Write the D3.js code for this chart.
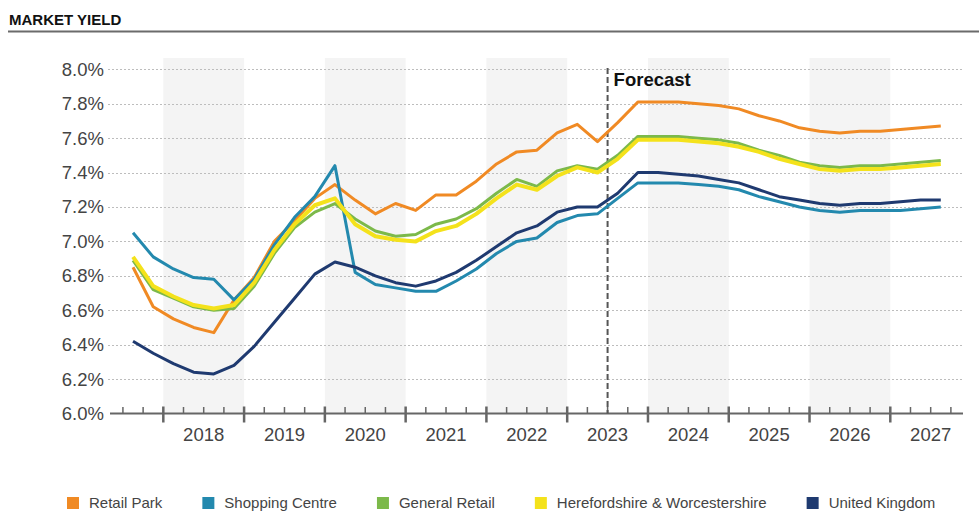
<!DOCTYPE html>
<html>
<head>
<meta charset="utf-8">
<script src="https://cdn.jsdelivr.net/npm/d3@7"></script>
<style>
  html, body { margin: 0; padding: 0; background: #fff; }
  svg { display: block; font-family: "Liberation Sans", Arial, sans-serif; }
</style>
</head>
<body>
<svg id="chart" width="979" height="511"></svg>
<script>
// Quarterly market yield (%) by segment, 2017 Q3 to 2027 Q3
const periods = [
  "2017 Q3", "2017 Q4",
  "2018 Q1", "2018 Q2", "2018 Q3", "2018 Q4",
  "2019 Q1", "2019 Q2", "2019 Q3", "2019 Q4",
  "2020 Q1", "2020 Q2", "2020 Q3", "2020 Q4",
  "2021 Q1", "2021 Q2", "2021 Q3", "2021 Q4",
  "2022 Q1", "2022 Q2", "2022 Q3", "2022 Q4",
  "2023 Q1", "2023 Q2", "2023 Q3", "2023 Q4",
  "2024 Q1", "2024 Q2", "2024 Q3", "2024 Q4",
  "2025 Q1", "2025 Q2", "2025 Q3", "2025 Q4",
  "2026 Q1", "2026 Q2", "2026 Q3", "2026 Q4",
  "2027 Q1", "2027 Q2", "2027 Q3"
];

const retailPark = [
  6.85, 6.62, 6.55, 6.50, 6.47, 6.66, 6.79, 7.00, 7.12, 7.25,
  7.33, 7.24, 7.16, 7.22, 7.18, 7.27, 7.27, 7.35, 7.45, 7.52,
  7.53, 7.63, 7.68, 7.58, 7.69, 7.81, 7.81, 7.81, 7.80, 7.79,
  7.77, 7.73, 7.70, 7.66, 7.64, 7.63, 7.64, 7.64, 7.65, 7.66, 7.67
];
const shoppingCentre = [
  7.05, 6.91, 6.84, 6.79, 6.78, 6.66, 6.78, 6.98, 7.14, 7.26,
  7.44, 6.82, 6.75, 6.73, 6.71, 6.71, 6.77, 6.84, 6.93, 7.00,
  7.02, 7.11, 7.15, 7.16, 7.25, 7.34, 7.34, 7.34, 7.33, 7.32,
  7.30, 7.26, 7.23, 7.20, 7.18, 7.17, 7.18, 7.18, 7.18, 7.19, 7.20
];
const generalRetail = [
  6.89, 6.72, 6.67, 6.62, 6.60, 6.61, 6.74, 6.93, 7.08, 7.17,
  7.22, 7.13, 7.06, 7.03, 7.04, 7.10, 7.13, 7.19, 7.28, 7.36,
  7.32, 7.41, 7.44, 7.42, 7.50, 7.61, 7.61, 7.61, 7.60, 7.59,
  7.57, 7.53, 7.50, 7.46, 7.44, 7.43, 7.44, 7.44, 7.45, 7.46, 7.47
];
const herefordWorcester = [
  6.91, 6.74, 6.68, 6.63, 6.61, 6.63, 6.76, 6.95, 7.10, 7.21,
  7.25, 7.10, 7.03, 7.01, 7.00, 7.06, 7.09, 7.16, 7.25, 7.33,
  7.30, 7.38, 7.43, 7.40, 7.48, 7.59, 7.59, 7.59, 7.58, 7.57,
  7.55, 7.52, 7.48, 7.45, 7.42, 7.41, 7.42, 7.42, 7.43, 7.44, 7.45
];
const unitedKingdom = [
  6.42, 6.35, 6.29, 6.24, 6.23, 6.28, 6.39, 6.53, 6.67, 6.81,
  6.88, 6.85, 6.80, 6.76, 6.74, 6.77, 6.82, 6.89, 6.97, 7.05,
  7.09, 7.17, 7.20, 7.20, 7.28, 7.40, 7.40, 7.39, 7.38, 7.36,
  7.34, 7.30, 7.26, 7.24, 7.22, 7.21, 7.22, 7.22, 7.23, 7.24, 7.24
];

const seriesNames = ["Retail Park", "Shopping Centre", "General Retail",
                     "Herefordshire & Worcestershire", "United Kingdom"];
const seriesValues = [retailPark, shoppingCentre, generalRetail, herefordWorcester, unitedKingdom];
const seriesColors = ["#F08A24", "#2389AE", "#7CB94A", "#F4E21B", "#1F3A70"];
const seriesWidths = [3, 3, 3, 4, 3];

const yTicks = [6.0, 6.2, 6.4, 6.6, 6.8, 7.0, 7.2, 7.4, 7.6, 7.8, 8.0];
const years = [2018, 2019, 2020, 2021, 2022, 2023, 2024, 2025, 2026, 2027];
const shadedYears = [2018, 2020, 2022, 2024, 2026];
const forecastStart = "2023 Q3";

// quarter label -> fractional year at the middle of the quarter
const toYear = p => {
  const [yr, q] = p.split(" Q");
  return +yr + (+q - 0.5) / 4;
};

const svg = d3.select("#chart");
const textColor = "#444";
const axisColor = "#666";

const x = d3.scaleLinear().domain([2017.34, 2027.9]).range([110, 963]);
const y = d3.scaleLinear().domain([6, 8]).range([413.5, 69.3]);
const plotTop = 58;

// Title and rule
svg.append("text")
  .attr("x", 9).attr("y", 25)
  .attr("font-size", 15).attr("font-weight", "bold").attr("fill", "#111")
  .text("MARKET YIELD");
svg.append("line")
  .attr("x1", 8).attr("x2", 979).attr("y1", 31.5).attr("y2", 31.5)
  .attr("stroke", "#6b6b6b").attr("stroke-width", 2);

// Alternate year bands
svg.append("g").selectAll("rect").data(shadedYears).join("rect")
  .attr("x", d => x(d)).attr("width", d => x(d + 1) - x(d))
  .attr("y", plotTop).attr("height", y(6) - plotTop)
  .attr("fill", "#f4f4f4");

// Gridlines and y labels
const grid = svg.append("g");
grid.selectAll("line").data(yTicks.filter(v => v > 6)).join("line")
  .attr("x1", 108).attr("x2", 963)
  .attr("y1", d => Math.round(y(d)) + 0.5).attr("y2", d => Math.round(y(d)) + 0.5)
  .attr("stroke", "#bdbdbd").attr("stroke-width", 1).attr("stroke-dasharray", "2,2");
grid.selectAll("text").data(yTicks).join("text")
  .attr("x", 104).attr("y", d => y(d))
  .attr("dy", "0.35em").attr("text-anchor", "end")
  .attr("font-size", 18.5).attr("fill", textColor)
  .text(d => d3.format(".1f")(d) + "%");

// X axis with quarter and year ticks
const axisY = y(6);
const ax = svg.append("g");
ax.append("line")
  .attr("x1", 110).attr("x2", 963).attr("y1", axisY).attr("y2", axisY)
  .attr("stroke", axisColor).attr("stroke-width", 2);
const quarterTicks = d3.range(2017.5, 2027.8, 0.25).filter(t => Math.abs(t - Math.round(t)) > 1e-6);
ax.selectAll("line.minor").data(quarterTicks).join("line").attr("class", "minor")
  .attr("x1", d => x(d)).attr("x2", d => x(d))
  .attr("y1", axisY - 6.5).attr("y2", axisY)
  .attr("stroke", axisColor).attr("stroke-width", 1.5);
ax.selectAll("line.major").data(years).join("line").attr("class", "major")
  .attr("x1", d => x(d)).attr("x2", d => x(d))
  .attr("y1", axisY - 7).attr("y2", axisY + 9)
  .attr("stroke", axisColor).attr("stroke-width", 2.5);
ax.selectAll("text").data(years).join("text")
  .attr("x", d => x(d + 0.5)).attr("y", 440.5)
  .attr("text-anchor", "middle").attr("font-size", 18.5).attr("fill", textColor)
  .text(d => d);

// Forecast divider
const fx = x(toYear(forecastStart) - 0.125);
svg.append("line")
  .attr("x1", fx).attr("x2", fx).attr("y1", 68).attr("y2", axisY)
  .attr("stroke", "#555").attr("stroke-width", 2).attr("stroke-dasharray", "6,3");
svg.append("text")
  .attr("x", fx + 6).attr("y", 86)
  .attr("font-size", 18.5).attr("font-weight", "bold").attr("fill", "#111")
  .text("Forecast");

// Series lines
const line = d3.line()
  .x((d, i) => x(toYear(periods[i])))
  .y(d => y(d));
svg.append("g").selectAll("path").data(seriesValues).join("path")
  .attr("d", d => line(d))
  .attr("fill", "none")
  .attr("stroke", (d, i) => seriesColors[i])
  .attr("stroke-width", (d, i) => seriesWidths[i])
  .attr("stroke-linejoin", "round");

// Legend
const legend = svg.append("g");
let lx = 67;
seriesNames.forEach((name, i) => {
  legend.append("rect")
    .attr("x", lx).attr("y", 497).attr("width", 12).attr("height", 12)
    .attr("fill", seriesColors[i]);
  const t = legend.append("text")
    .attr("x", lx + 22).attr("y", 508)
    .attr("font-size", 15).attr("fill", textColor)
    .text(name);
  lx += 22 + t.node().getComputedTextLength() + 40;
});
</script>
</body>
</html>
